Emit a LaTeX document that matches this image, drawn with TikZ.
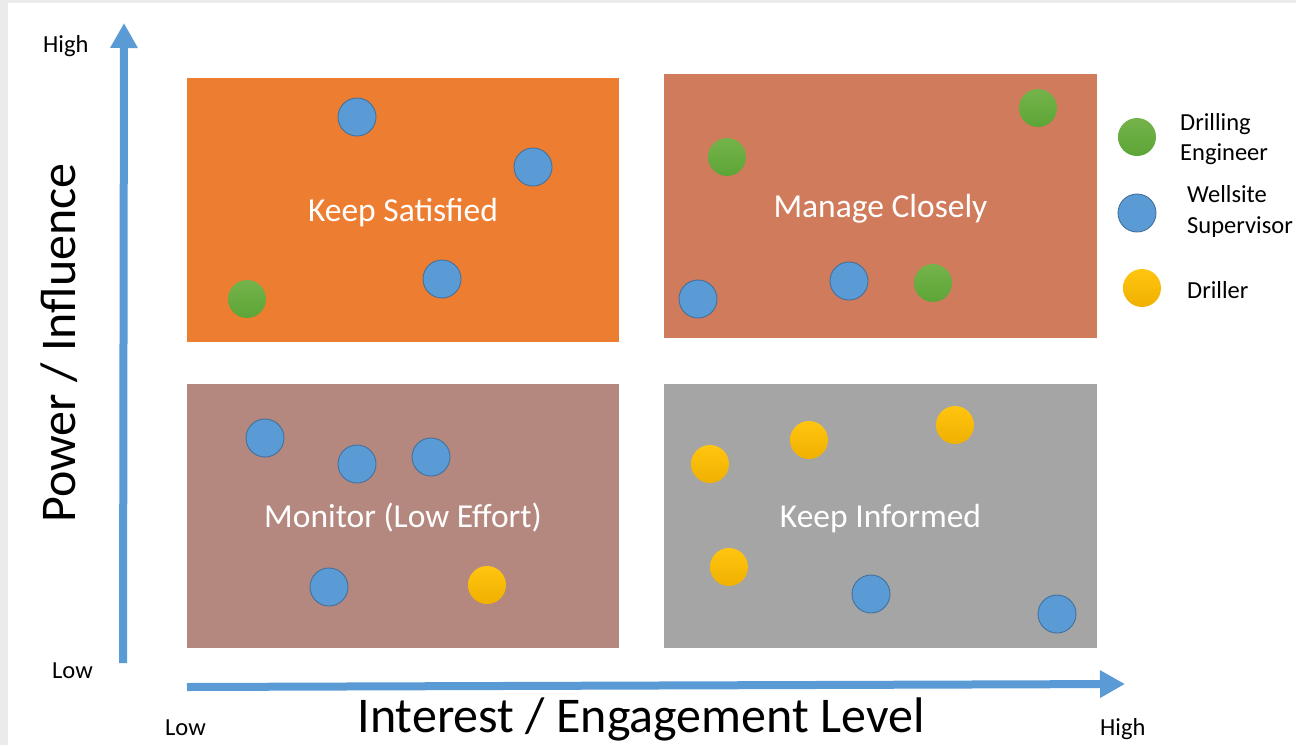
\documentclass[tikz,border=0pt]{standalone}
\usepackage{fontspec}
\setmainfont{Carlito}
\usepackage{xcolor}
\usetikzlibrary{arrows.meta}

\definecolor{frame}{HTML}{EBEBEB}
\definecolor{axisblue}{HTML}{5B9BD5}
\definecolor{satorange}{HTML}{ED7D31}
\definecolor{mansalmon}{HTML}{D07B5B}
\definecolor{monbrown}{HTML}{B5887F}
\definecolor{infgray}{HTML}{A5A5A5}
\definecolor{wsblue}{HTML}{5B9BD5}
\definecolor{wsedge}{HTML}{41719C}
\definecolor{degreen}{HTML}{74B34B}
\definecolor{degreendark}{HTML}{5DA537}
\definecolor{dryellow}{HTML}{FFC510}
\definecolor{dryellowdark}{HTML}{F0B000}

\tikzset{
    quad/.style={rectangle, fill=#1, inner sep=0pt, text=white,
        font=\fontsize{33.5}{40}\selectfont, text height=22pt, text depth=0pt},
    stake/.style={circle, minimum size=38pt, inner sep=0pt},
    wellsite/.style={stake, fill=wsblue, draw=wsedge, line width=0.9pt},
    engineer/.style={stake, top color=degreen, bottom color=degreendark},
    driller/.style={stake, top color=dryellow, bottom color=dryellowdark},
    small/.style={anchor=base west, inner sep=0pt, font=\fontsize{24.5}{29}\selectfont},
    big/.style={anchor=base, inner sep=0pt, font=\fontsize{50}{60}\selectfont},
    axis/.style={draw=axisblue, line width=8pt, -{Triangle[length=25pt, width=26pt]}}
}

\begin{document}
\begin{tikzpicture}[x=1pt, y=-1pt]
        % page with grey frame
        \fill[frame] (0,0) rectangle (1296,745);
        \fill[white] (8,3) rectangle (1296,745);
        \useasboundingbox (0,0) rectangle (1296,745);

        % quadrants
        \node[quad=satorange, minimum width=432pt, minimum height=264pt] (satisfied) at (403,210) {Keep Satisfied};
        \node[quad=mansalmon, minimum width=433pt, minimum height=264pt] (manage) at (880.5,206) {Manage Closely};
        \node[quad=monbrown, minimum width=432pt, minimum height=264pt] (monitor) at (403,516) {Monitor (Low Effort)};
        \node[quad=infgray, minimum width=433pt, minimum height=264pt] (informed) at (880.5,516) {Keep Informed};

        % axes
        \coordinate (ybot) at (123,663);
        \coordinate (ytop) at (124,23);
        \coordinate (xleft) at (187,687);
        \coordinate (xright) at (1125,684);
        \draw[axis] (ybot) -- (ytop);
        \draw[axis] (xleft) -- (xright);

        \node[small] (yhigh) at (43,52) {High};
        \node[small] (ylow) at (52,678) {Low};
        \node[small] (xlow) at (165,735) {Low};
        \node[small] (xhigh) at (1100,735) {High};
        \node[big, rotate=90] (ylabel) at (75,343) {Power / Influence};
        \node[big] (xlabel) at (641,732) {Interest / Engagement Level};

        % keep satisfied
        \node[wellsite] (ks1) at (357,117) {};
        \node[wellsite] (ks2) at (533,167) {};
        \node[wellsite] (ks3) at (442,279) {};
        \node[engineer] (ks4) at (247,299) {};

        % manage closely
        \node[engineer] (mc1) at (1038,108) {};
        \node[engineer] (mc2) at (727,157) {};
        \node[wellsite] (mc3) at (698,299) {};
        \node[wellsite] (mc4) at (849,281) {};
        \node[engineer] (mc5) at (933,283) {};

        % monitor
        \node[wellsite] (mo1) at (265,438) {};
        \node[wellsite] (mo2) at (357,464) {};
        \node[wellsite] (mo3) at (431,457) {};
        \node[wellsite] (mo4) at (329,587) {};
        \node[driller] (mo5) at (487,585) {};

        % keep informed
        \node[driller] (ki1) at (710,464) {};
        \node[driller] (ki2) at (809,440) {};
        \node[driller] (ki3) at (955,425) {};
        \node[driller] (ki4) at (729,567) {};
        \node[wellsite] (ki5) at (871,594) {};
        \node[wellsite] (ki6) at (1057,614) {};

        % legend
        \node[engineer] (legde) at (1137,137) {};
        \node[small] (legde1) at (1180,130) {Drilling};
        \node[small] (legde2) at (1180,160) {Engineer};
        \node[wellsite] (legws) at (1137,213) {};
        \node[small] (legws1) at (1187,202) {Wellsite};
        \node[small] (legws2) at (1187,233) {Supervisor};
        \node[driller] (legdr) at (1142,288) {};
        \node[small] (legdr1) at (1187,298) {Driller};
    \end{tikzpicture}
\end{document}
